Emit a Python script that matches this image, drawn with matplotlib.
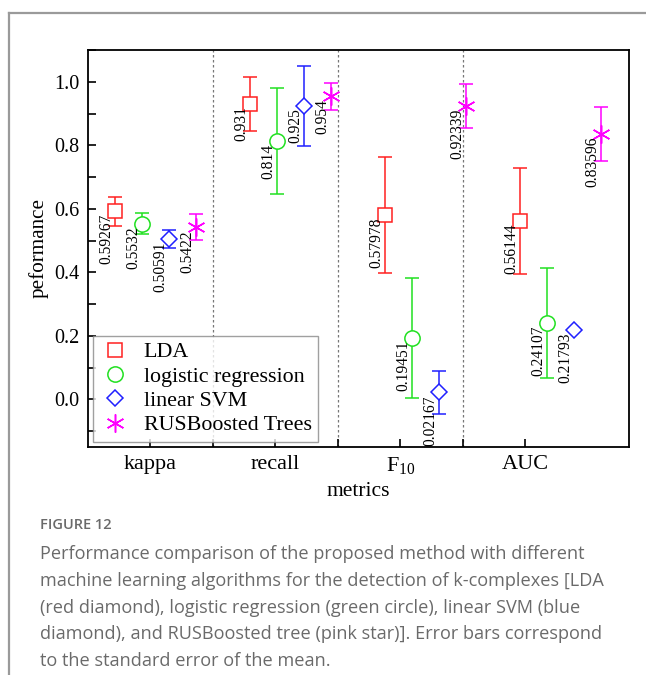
import matplotlib
matplotlib.use("Agg")
import matplotlib.pyplot as plt
from matplotlib.lines import Line2D
from matplotlib.ticker import MultipleLocator, FixedLocator
import numpy as np

# ---------------- data ----------------
metrics = ['kappa', 'recall', 'F$_{10}$', 'AUC']
models = ['LDA', 'logistic regression', 'linear SVM', 'RUSBoosted Trees']

lda = [0.59267, 0.931, 0.57978, 0.56144]
logreg = [0.5532, 0.814, 0.19451, 0.24107]
svm = [0.50591, 0.925, 0.02167, 0.21793]
rusboost = [0.5422, 0.954, 0.92339, 0.83596]

# standard error (half length of the error bars)
lda_err = [0.046, 0.085, 0.183, 0.166]
logreg_err = [0.033, 0.166, 0.189, 0.173]
svm_err = [0.028, 0.126, 0.068, 0.0]
rusboost_err = [0.041, 0.042, 0.07, 0.084]

# label strings as printed on the chart
lda_lbl = ['0.59267', '0.931', '0.57978', '0.56144']
logreg_lbl = ['0.5532', '0.814', '0.19451', '0.24107']
svm_lbl = ['0.50591', '0.925', '0.02167', '0.21793']
rusboost_lbl = ['0.5422', '0.954', '0.92339', '0.83596']

caption_head = 'FIGURE 12'
caption_lines = [
    'Performance comparison of the proposed method with different',
    'machine learning algorithms for the detection of k-complexes [LDA',
    '(red diamond), logistic regression (green circle), linear SVM (blue',
    'diamond), and RUSBoosted tree (pink star)]. Error bars correspond',
    'to the standard error of the mean.',
]

# ---------------- style ----------------
plt.rcParams['font.family'] = ['Liberation Serif', 'DejaVu Serif']
plt.rcParams['mathtext.default'] = 'regular'

colors = ['#ff2020', '#20e020', '#2020ff', '#ff00ff']
markers = ['s', 'o', 'D', (6, 2, 0)]
msizes = [10, 11, 8, 13]

series = [lda, logreg, svm, rusboost]
errs = [lda_err, logreg_err, svm_err, rusboost_err]
labels = [lda_lbl, logreg_lbl, svm_lbl, rusboost_lbl]

fig = plt.figure(figsize=(6.46, 6.75), dpi=100)
ax = fig.add_axes([88 / 646, 1 - 447 / 675, (629 - 88) / 646, (447 - 50) / 675])

n = len(metrics)
slot = 0.216
for j, (vals, e, lbls) in enumerate(zip(series, errs, labels)):
    xs = 0.72 + slot * (5 * np.arange(n) + j)
    ax.errorbar(xs, vals, yerr=e, fmt='none', ecolor=colors[j], elinewidth=1.1,
                capsize=5, capthick=1.1, zorder=2)
    ax.plot(xs, vals, linestyle='none', marker=markers[j], markersize=msizes[j],
            markerfacecolor='white' if j < 3 else colors[j], markeredgecolor=colors[j],
            markeredgewidth=1.1, color=colors[j], label=models[j], zorder=3)
    for x, v, t in zip(xs, vals, lbls):
        ax.annotate(t, (x, v), xytext=(-6.5, -2), textcoords='offset points',
                    rotation=90, rotation_mode='anchor', ha='right', va='center',
                    fontsize=11.2, zorder=4)

# dotted separators between metric groups
for xb in [1.5, 2.5, 3.5]:
    ax.axvline(xb, color='#777777', linestyle=(0, (2, 2)), linewidth=0.9, zorder=1)

ax.set_xlim(0.5, 4.83)
ax.set_ylim(-0.15, 1.1)
ax.set_xticks(range(1, n + 1))
ax.set_xticklabels(metrics, fontsize=16)
ax.xaxis.set_minor_locator(FixedLocator([1.5, 2.5, 3.5]))
ax.yaxis.set_major_locator(MultipleLocator(0.2))
ax.yaxis.set_minor_locator(MultipleLocator(0.1))
ax.set_yticks(np.arange(0, 1.01, 0.2))
ax.set_yticklabels(['%.1f' % v for v in np.arange(0, 1.01, 0.2)], fontsize=14.5)
ax.tick_params(which='major', direction='in', length=6, width=1.2, pad=6)
ax.tick_params(which='minor', direction='in', length=6, width=1.2)
for sp in ax.spines.values():
    sp.set_linewidth(1.3)

ax.set_xlabel('metrics', fontsize=15.5, labelpad=4)
ax.set_ylabel('peformance', fontsize=15.2, labelpad=4)

leg = ax.legend(loc='lower left', fontsize=15.8, frameon=True, fancybox=False,
                edgecolor='#888888', borderaxespad=0.25, handletextpad=0.6,
                labelspacing=0.18, borderpad=0.28, handlelength=1.4)
leg.get_frame().set_linewidth(1.0)

# page frame lines
fig.add_artist(Line2D([9 / 646, 1], [1 - 13 / 675, 1 - 13 / 675], color='#9a9a9a', lw=1.6))
fig.add_artist(Line2D([9 / 646, 9 / 646], [0, 1 - 13 / 675], color='#9a9a9a', lw=1.6))

# caption
fig.text(40 / 646, 1 - 525 / 675, caption_head, fontsize=10.5, color='#6a6a6a',
         family='Open Sans', weight='semibold', va='center')
for i, line in enumerate(caption_lines):
    fig.text(40 / 646, 1 - (554 + i * 26.8) / 675, line, fontsize=13.1, color='#6a6a6a',
             family='Open Sans', va='center')

fig.savefig('out.png', dpi=100)
